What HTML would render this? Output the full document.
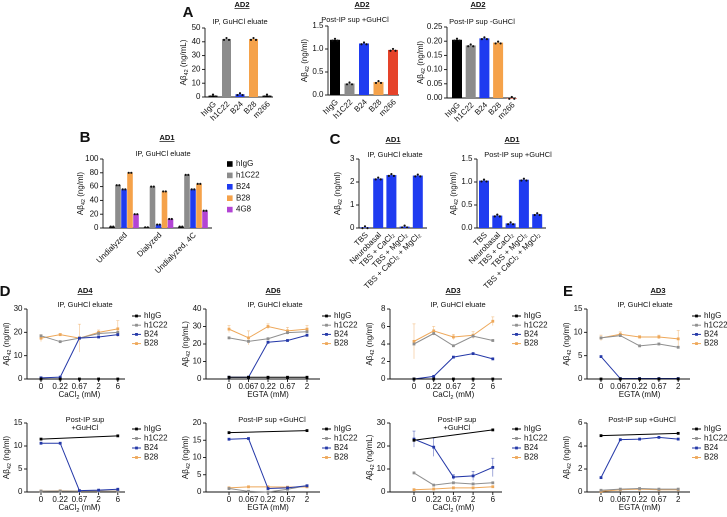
<!DOCTYPE html>
<html><head><meta charset="utf-8"><style>
html,body{margin:0;padding:0;background:#fff;}
svg{display:block;font-family:"Liberation Sans",sans-serif;}
</style></head><body>
<svg id="fig" width="727" height="517" viewBox="0 0 727 517" xmlns="http://www.w3.org/2000/svg"></svg>
<script>
// ---------- DATA ----------
const barCats5 = ["hIgG","h1C22","B24","B28","m266"];
const a1Values = [1,42,2,42,1];
const a2Values = [1.2,0.25,1.12,0.28,0.98];
const a3Values = [0.205,0.185,0.21,0.195,0];
const a1Ticks = ["0","10","20","30","40","50"];
const a2Ticks = ["0.0","0.5","1.0","1.5"];
const a3Ticks = ["0.00","0.05","0.10","0.15","0.20","0.25"];
const bGroups = ["Undialyzed","Dialyzed","Undialyzed, 4C"];
const bSeries = ["hIgG","h1C22","B24","B28","4G8"];
const bUndialyzed = [2,62,56,80,20];
const bDialyzed = [1,60,5,53,13];
const bUndialyzed4C = [2,77,56,64,25];
const bTicks = ["0","20","40","60","80","100"];
const cCats = ["TBS","Neurobasal","TBS + CaCl\u2082","TBS + MgCl\u2082","TBS + CaCl\u2082 + MgCl\u2082"];
const c1Values = [0.03,2.15,2.3,0.06,2.28];
const c2Values = [1.03,0.27,0.1,1.05,0.3];
const c1Ticks = ["0","1","2","3"];
const c2Ticks = ["0.0","0.5","1.0","1.5"];
const caCats = ["0","0.22","0.67","2","6"];
const egCats = ["0","0.067","0.22","0.67","2"];
const lineSeries = ["hIgG","h1C22","B24","B28"];
const d1tH = [0,0,0,0,0], d1tC = [18.5,16,17.5,19.5,20], d1tB24 = [0.5,0.8,17.5,18,19], d1tB28 = [17.5,19,17.5,20,21.5];
const d1tB28e = [1.5,0.5,6,1,3.5];
const d1bH = [11.5,null,null,null,12.2], d1bC = [0.2,0.2,0.2,0.2,0.2], d1bB24 = [10.6,10.6,0.3,0.4,0.6], d1bB28 = [0.2,0.25,0.2,0.2,0.2];
const d2tH = [1,1,1,1,1], d2tC = [23.5,21.5,23,26.5,27], d2tB24 = [1,1,21,22,25], d2tB28 = [28.5,23.5,30,27.5,28.5];
const d2tB28e = [2,4,1.5,2,2];
const d2bH = [17.2,null,null,null,17.8], d2bC = [1,0.2,0,0.8,1.8], d2bB24 = [15.3,15.5,1,1.2,1.8], d2bB28 = [1.2,1.5,1.5,1.4,1.5];
const d3tH = [0,0,0,0,0], d3tC = [4,5.2,3.8,4.9,4.4], d3tB24 = [0,0.3,2.5,2.9,2.3], d3tB28 = [4.3,5.5,4.8,5,6.6];
const d3tB28e = [2,0.5,0.3,0.4,0.5];
const d3bH = [22.5,null,null,null,27], d3bC = [8.3,3,4,3.5,4], d3bB24 = [23,19.5,6.5,7,10.7], d3bB28 = [1,1.3,1.8,1.8,2.3];
const d3bB24e = [3.5,4,1,2,4];
const etH = [0,0,0,0,0], etC = [8.8,9.3,7.1,7.5,6.8], etB24 = [4.8,0.1,0.1,0.1,0.1], etB28 = [8.8,9.6,9,9,8.6];
const etB28e = [0.6,0.5,0.3,0.4,1.8];
const ebH = [4.9,null,null,null,5.1], ebC = [0.15,0.25,0.3,0.25,0.25], ebB24 = [1.25,4.55,4.6,4.75,4.6], ebB28 = [0.05,0.2,0.25,0.2,0.2];
const d1Ticks = ["0","10","20","30"], d2Ticks = ["0","10","20","30","40"], d3Ticks = ["0","2","4","6","8"], eTicks = ["0","5","10","15"];
const d1bTicks = ["0","5","10","15"], d2bTicks = ["0","5","10","15","20"], d3bTicks = ["0","10","20","30"], ebTicks = ["0","2","4","6"];

// ---------- DRAWING ----------
const NS = "http://www.w3.org/2000/svg";
const svg = document.getElementById("fig");
function mk(tag, attrs, parent){
  const e = document.createElementNS(NS, tag);
  for (const k in attrs) e.setAttribute(k, attrs[k]);
  (parent||svg).appendChild(e);
  return e;
}
function txt(x,y,s,size,anchor,parent,extra){
  const t = mk("text",{x:x,y:y,"font-size":size,"text-anchor":anchor||"middle","dominant-baseline":"middle",fill:"#111"},parent);
  t.textContent = s;
  if(extra) for(const k in extra) t.setAttribute(k,extra[k]);
  return t;
}
const COL = {hIgG:"#000",h1C22:"#8c8c8c",B24:"#1f3bf0",B28:"#f5a24a",m266:"#e5432a","4G8":"#b244d4"};
const LCOL = {hIgG:"#000",h1C22:"#8f8f8f",B24:"#2438a8",B28:"#eea85a"};

function yAxisLabel(g, x, yMid, unit){
  const t = mk("text",{x:0,y:0,"font-size":8,"text-anchor":"middle","dominant-baseline":"middle",fill:"#111",transform:`translate(${x},${yMid}) rotate(-90)`},g);
  
  
  const a = mk("tspan",{},t); a.textContent = "A\u03b2";
  const s = mk("tspan",{"baseline-shift":"sub","font-size":5.5},t); s.textContent = "42";
  const b = mk("tspan",{"baseline-shift":"0"},t); b.textContent = " ("+unit+")";
}
function yAxis(g, ax, top, zero, ticks, xEnd){
  mk("line",{x1:ax,y1:top,x2:ax,y2:zero,stroke:"#111","stroke-width":0.9},g);
  mk("line",{x1:ax,y1:zero,x2:xEnd,y2:zero,stroke:"#111","stroke-width":0.9},g);
  const n = ticks.length-1;
  ticks.forEach((tl,i)=>{
    const y = zero - (zero-top)*i/n;
    mk("line",{x1:ax-3,y1:y,x2:ax,y2:y,stroke:"#111","stroke-width":0.9},g);
    const t = txt(ax-4.5,y,tl,8,"end",g);
    
    
  });
}
function rotLabel(g,x,y,s){
  const t = mk("text",{x:0,y:0,"font-size":8,"text-anchor":"end","dominant-baseline":"middle",fill:"#111",transform:`translate(${x},${y}) rotate(-45)`},g);
  t.textContent = s;
  
  
}
function header(g, adX, adY, ad, tX, tY, title){
  const a = txt(adX,adY,ad,7.5,"middle",g,{"font-weight":"bold","text-decoration":"underline"});
  
  
  if(title){
    const lines = Array.isArray(title)?title:[title];
    lines.forEach((l,i)=>{
      const t = txt(tX,tY+i*8,l,7.5,"middle",g);
      
      
    });
  }
}
function panelLetter(x,y,s){
  const t = txt(x,y,s,15,"middle",svg,{"font-weight":"bold"});
  
  
}

function barPanel(name, L, cats, values, ticks, colors){
  const g = mk("g",{});
  
  
  const max = parseFloat(ticks[ticks.length-1]);
  const ys = v => L.zero - (L.zero-L.top)*v/max;
  yAxis(g, L.ax, L.top, L.zero, ticks, L.xEnd);
  yAxisLabel(g, L.ax-(L.lab||21), (L.top+L.zero)/2, L.unit);
  values.forEach((v,i)=>{
    const cx = L.first + i*L.step;
    const r = mk("rect",{x:cx-L.w/2,y:ys(v),width:L.w,height:Math.max(0.6,L.zero-ys(v)),fill:colors[i]},g);
    
    
    [-2.5,0,2.5].forEach((d,k)=>{
      mk("circle",{cx:cx+d,cy:ys(v)+(k===1?-1:0.8),r:1.1,fill:"#111"},g);
    });
    rotLabel(g, cx+2, L.zero+6, cats[i]);
  });
  header(g, L.adX, L.adY, L.ad, L.tX, L.tY, L.title);
}

function linePanel(name, L, cats, series, ticks, xTitle, errs){
  const g = mk("g",{});
  
  
  const max = parseFloat(ticks[ticks.length-1]);
  const ys = v => L.zero - (L.zero-L.top)*v/max;
  const xs = i => L.first + i*L.step;
  yAxis(g, L.ax, L.top, L.zero, ticks, L.xEnd);
  yAxisLabel(g, L.ax-20, (L.top+L.zero)/2, L.unit);
  cats.forEach((c,i)=>{
    mk("line",{x1:xs(i),y1:L.zero,x2:xs(i),y2:L.zero+3,stroke:"#111","stroke-width":0.9},g);
    const t = txt(xs(i),L.zero+8,c,8,"middle",g);
    
    
  });
  const xt = mk("text",{x:(L.first+xs(cats.length-1))/2,y:L.zero+16,"font-size":8,"text-anchor":"middle","dominant-baseline":"middle",fill:"#111"},g);
  
  
  if(xTitle==="CaCl"){
    const a=mk("tspan",{},xt);a.textContent="CaCl";
    const s=mk("tspan",{"baseline-shift":"sub","font-size":5.5},xt);s.textContent="2";
    const b=mk("tspan",{"baseline-shift":"0"},xt);b.textContent=" (mM)";
  } else xt.textContent = xTitle;
  const order = [3,1,2,0];
  order.forEach(si=>{
    const vals = series[si], nm = lineSeries[si], col = LCOL[nm];
    const pts = [];
    vals.forEach((v,i)=>{ if(v!==null) pts.push([xs(i),ys(v)]); });
    const pl = mk("polyline",{points:pts.map(p=>p.join(",")).join(" "),fill:"none",stroke:col,"stroke-width":1},g);
    
    
    if(errs && errs[si]){
      errs[si].forEach((e,i)=>{
        if(vals[i]===null) return;
        const x=xs(i), y1=ys(vals[i]+e), y2=ys(Math.max(0,vals[i]-e));
        mk("line",{x1:x,y1:y1,x2:x,y2:y2,stroke:col,"stroke-width":0.6,opacity:0.7},g);
        mk("line",{x1:x-1.5,y1:y1,x2:x+1.5,y2:y1,stroke:col,"stroke-width":0.6,opacity:0.7},g);
      });
    }
    pts.forEach(p=>{
      const c = mk("rect",{x:p[0]-1.4,y:p[1]-1.4,width:2.8,height:2.8,fill:col},g);
      
      
    });
  });
  lineSeries.forEach((nm,i)=>{
    const y = L.legY + i*L.legStep;
    const lg = mk("g",{},g);
    
    
    mk("line",{x1:L.legX,y1:y,x2:L.legX+9,y2:y,stroke:LCOL[nm],"stroke-width":1},lg);
    mk("rect",{x:L.legX+3.1,y:y-1.4,width:2.8,height:2.8,fill:LCOL[nm]},lg);
    txt(L.legX+12,y,nm,8,"start",lg);
  });
  header(g, L.adX, L.adY, L.ad, L.tX, L.tY, L.title);
}

// ---------- PANEL A ----------
panelLetter(188,13,"A");
const cA = [COL.hIgG,COL.h1C22,COL.B24,COL.B28,COL.hIgG];
barPanel("chart-a1",{ax:205,xEnd:273,top:28,zero:97,first:213,step:13.5,w:9,unit:"ng/mL",ad:"AD2",adX:242,adY:5,tX:240,tY:22,title:"IP, GuHCl eluate"},barCats5,a1Values,a1Ticks,cA);
const cA2 = [COL.hIgG,COL.h1C22,COL.B24,COL.B28,COL.m266];
barPanel("chart-a2",{ax:328,xEnd:399,top:26,zero:95,first:335,step:14.5,w:10,lab:23,unit:"ng/ml",ad:"AD2",adX:362,adY:5,tX:355,tY:20,title:"Post-IP sup +GuHCl"},barCats5,a2Values,a2Ticks,cA2);
barPanel("chart-a3",{ax:447,xEnd:516,top:27,zero:98,first:457,step:13.7,w:10,lab:26,unit:"ng/ml",ad:"AD2",adX:478,adY:5,tX:482,tY:22,title:"Post-IP sup -GuHCl"},barCats5,a3Values,a3Ticks,cA2);

// ---------- PANEL B ----------
panelLetter(85,138,"B");
(function(){
  const g = mk("g",{});
  
  
  const top=159, zero=228, ax=103, max=100;
  const ys = v => zero-(zero-top)*v/max;
  yAxis(g,ax,top,zero,bTicks,212);
  yAxisLabel(g,ax-22,(top+zero)/2,"ng/ml");
  const groups=[bUndialyzed,bDialyzed,bUndialyzed4C];
  groups.forEach((vals,gi)=>{
    const gx = 112 + gi*34.5;
    vals.forEach((v,i)=>{
      const cx = gx + i*6;
      const r = mk("rect",{x:cx-2.8,y:ys(v),width:5.6,height:Math.max(0.6,zero-ys(v)),fill:COL[bSeries[i]]},g);
      
      
      mk("circle",{cx:cx-1.3,cy:ys(v),r:1.1,fill:"#111"},g);
      mk("circle",{cx:cx+1.3,cy:ys(v),r:1.1,fill:"#111"},g);
    });
    rotLabel(g,gx+14,zero+6,bGroups[gi]);
  });
  bSeries.forEach((nm,i)=>{
    const y=164+i*11.4;
    const lg = mk("g",{},g);
    
    
    mk("rect",{x:227,y:y-2.8,width:5.6,height:5.6,fill:COL[nm]},lg);
    txt(236,y,nm,8,"start",lg);
  });
  header(g,167,138,"AD1",163,154,"IP, GuHCl eluate");
})();

// ---------- PANEL C ----------
panelLetter(335,140,"C");
const cC = [COL.B24,COL.B24,COL.B24,COL.B24,COL.B24];
barPanel("chart-c1",{ax:359,xEnd:427,top:159,zero:228,first:365,step:13.2,w:10,unit:"ng/ml",ad:"AD1",adX:393,adY:140,tX:395,tY:155,title:"IP, GuHCl eluate"},cCats,c1Values,c1Ticks,cC);
barPanel("chart-c2",{ax:477,xEnd:546,top:159,zero:228,first:484,step:13.3,w:10,lab:23,unit:"ng/ml",ad:"AD1",adX:512,adY:140,tX:518,tY:155,title:"Post-IP sup +GuHCl"},cCats,c2Values,c2Ticks,cC);

// ---------- PANEL D / E ----------
panelLetter(5,292,"D");
panelLetter(568,292,"E");
const TOP={top:309,zero:379,legY:316,legStep:9.2,adY:291,tY:305};
const BOT={top:423,zero:492,legY:429,legStep:9.5,adY:-100,tY:420};
linePanel("chart-d1-eluate",Object.assign({},TOP,{ax:27,xEnd:125,first:41,step:19.2,unit:"ng/ml",legX:132,ad:"AD4",adX:85,tX:85,title:"IP, GuHCl eluate"}),caCats,[d1tH,d1tC,d1tB24,d1tB28],d1Ticks,"CaCl",[null,null,null,d1tB28e]);
linePanel("chart-d2-eluate",Object.assign({},TOP,{ax:206,xEnd:320,first:229,step:19.5,unit:"ng/mL",legX:322,ad:"AD6",adX:273,tX:275,title:"IP, GuHCl eluate"}),egCats,[d2tH,d2tC,d2tB24,d2tB28],d2Ticks,"EGTA (mM)",[null,null,null,d2tB28e]);
linePanel("chart-d3-eluate",Object.assign({},TOP,{ax:390,xEnd:502,first:414,step:19.7,unit:"ng/ml",legX:512,ad:"AD3",adX:453,tX:458,title:"IP, GuHCl eluate"}),caCats,[d3tH,d3tC,d3tB24,d3tB28],d3Ticks,"CaCl",[null,null,null,d3tB28e]);
linePanel("chart-e-eluate",Object.assign({},TOP,{ax:587,xEnd:690,first:601,step:19.3,unit:"ng/ml",legX:692,ad:"AD3",adX:658,tX:645,title:"IP, GuHCl eluate"}),egCats,[etH,etC,etB24,etB28],eTicks,"EGTA (mM)",[null,null,null,etB28e]);
linePanel("chart-d1-sup",Object.assign({},BOT,{ax:27,xEnd:125,first:41,step:19.2,unit:"ng/ml",legX:132,ad:"",adX:0,tX:85,title:["Post-IP sup","+GuHCl"]}),caCats,[d1bH,d1bC,d1bB24,d1bB28],d1bTicks,"CaCl",null);
linePanel("chart-d2-sup",Object.assign({},BOT,{ax:206,xEnd:320,first:229,step:19.5,unit:"ng/ml",legX:322,ad:"",adX:0,tX:272,title:"Post-IP sup +GuHCl"}),egCats,[d2bH,d2bC,d2bB24,d2bB28],d2bTicks,"EGTA (mM)",null);
linePanel("chart-d3-sup",Object.assign({},BOT,{ax:390,xEnd:502,first:414,step:19.7,unit:"ng/mL",legX:512,ad:"",adX:0,tX:457,title:["Post-IP sup","+GuHCl"]}),caCats,[d3bH,d3bC,d3bB24,d3bB28],d3bTicks,"CaCl",[null,null,d3bB24e,null]);
linePanel("chart-e-sup",Object.assign({},BOT,{ax:587,xEnd:690,first:601,step:19.3,unit:"ng/ml",legX:692,ad:"",adX:0,tX:642,title:"Post-IP sup +GuHCl"}),egCats,[ebH,ebC,ebB24,ebB28],ebTicks,"EGTA (mM)",null);
</script>
</body></html>
